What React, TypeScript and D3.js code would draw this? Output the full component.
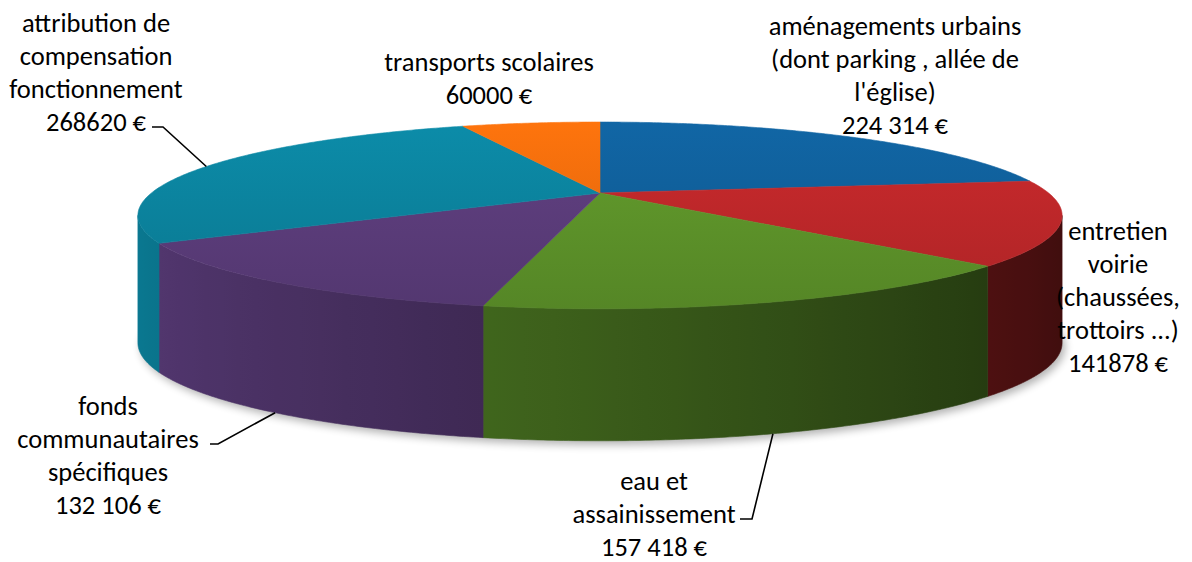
import React from "react";
import * as d3 from "d3";

// ---------- data ----------
const categories = [
  "aménagements urbains (dont parking , allée de l'église)",
  "entretien voirie (chaussées, trottoirs ...)",
  "eau et assainissement",
  "fonds communautaires spécifiques",
  "attribution de compensation fonctionnement",
  "transports scolaires",
];
const values = [224314, 141878, 157418, 132106, 268620, 60000];
const labelLines = [
  ["aménagements urbains", "(dont parking , allée de", "l'église)", "224 314 €"],
  ["entretien", "voirie", "(chaussées,", "trottoirs ...)", "141878 €"],
  ["eau et", "assainissement", "157 418 €"],
  ["fonds", "communautaires", "spécifiques", "132 106 €"],
  ["attribution de", "compensation", "fonctionnement", "268620 €"],
  ["transports scolaires", "60000 €"],
];
const colors = ["#10609c", "#c0282a", "#5e952a", "#5c3d7c", "#0b849f", "#f06d0c"];

// ---------- layout ----------
const W = 1192, H = 562;
const CX = 600, CY = 193, A = 448.6, B = 88, P = 0.24;
const FONT = 26.5, LINE = 33;
// label placement: center x, first baseline, optional leader (line index, x start, x elbow)
const labelLayout = [
  { cx: 895, y: 35, leader: null },
  { cx: 1118, y: 240, leader: null },
  { cx: 654, y: 490, leader: { line: 1, x0: 740, x1: 752 } },
  { cx: 108, y: 415, leader: { line: 1, x0: 210, x1: 218 } },
  { cx: 96, y: 32, leader: { line: 3, x0: 152, x1: 163 } },
  { cx: 489, y: 71, leader: null },
];

function proj(theta: number, drop = 0): [number, number] {
  const x = Math.sin(theta), z = -Math.cos(theta);
  const d = 1 - P * z;
  return [CX + (A * x) / d, CY + (B * z) / d + drop];
}
function wallH(theta: number) {
  const z = -Math.cos(theta);
  return 126 + 6 * z;
}
function shade(c: string, f: number) {
  const r = d3.rgb(c);
  return d3.rgb(Math.min(255, r.r * f), Math.min(255, r.g * f), Math.min(255, r.b * f)).formatHex();
}
function samples(a0: number, a1: number, step = Math.PI / 360) {
  const n = Math.max(2, Math.ceil((a1 - a0) / step));
  return d3.range(n + 1).map((i) => a0 + ((a1 - a0) * i) / n);
}

export default function App() {
  const arcs = d3.pie<number>().sort(null).startAngle(0).endAngle(2 * Math.PI)(values);
  const thL = Math.acos(-P);
  const thR = 2 * Math.PI - thL;
  const line = d3.line();

  const shadowPts = samples(0, 2 * Math.PI).map((t) => proj(t, wallH(t)));

  const walls = arcs.map((a, i) => {
    const a0 = Math.max(a.startAngle, thL), a1 = Math.min(a.endAngle, thR);
    if (a1 <= a0) return null;
    const ts = samples(a0, a1);
    const top = ts.map((t) => proj(t));
    const bot = ts.map((t) => proj(t, wallH(t))).reverse();
    const xs = top.map((p) => p[0]);
    const xmin = d3.min(xs)!, xmax = d3.max(xs)!;
    const stops = ts
      .filter((_, k) => k % 6 === 0 || k === ts.length - 1)
      .map((t) => {
        const p = proj(t);
        const f = 0.62 - 0.3 * Math.sin(t);
        return { off: (p[0] - xmin) / Math.max(1, xmax - xmin), col: shade(colors[i], f) };
      })
      .sort((u, v) => u.off - v.off);
    return { i, d: line([...top, ...bot])! + "Z", xmin, xmax, stops };
  });

  const tops = arcs.map((a, i) => {
    const pts = [[CX, CY] as [number, number], ...samples(a.startAngle, a.endAngle).map((t) => proj(t))];
    return { i, d: line(pts)! + "Z" };
  });

  return (
    <svg width={W} height={H} style={{ position: "absolute", left: 0, top: 0, background: "#fff" }}
      fontFamily="Carlito, Calibri, Lato, sans-serif">
      <defs>
        <filter id="sh" x="-10%" y="-10%" width="120%" height="130%">
          <feGaussianBlur stdDeviation="4" />
        </filter>
        {walls.map((w) =>
          w ? (
            <linearGradient key={w.i} id={`wg${w.i}`} gradientUnits="userSpaceOnUse" x1={w.xmin} x2={w.xmax} y1={0} y2={0}>
              {w.stops.map((s, k) => (
                <stop key={k} offset={s.off} stopColor={s.col} />
              ))}
            </linearGradient>
          ) : null
        )}
        {colors.map((c, i) => (
          <linearGradient key={i} id={`tg${i}`} gradientUnits="userSpaceOnUse" x1={0} x2={0} y1={122} y2={310}>
            <stop offset={0} stopColor={shade(c, 1.06)} />
            <stop offset={1} stopColor={shade(c, 0.9)} />
          </linearGradient>
        ))}
      </defs>
      <path d={line(shadowPts)! + "Z"} fill="#000" opacity={0.3} filter="url(#sh)" transform="translate(3,4)" />
      {walls.map((w) =>
        w ? <path key={w.i} d={w.d} fill={`url(#wg${w.i})`} stroke={`url(#wg${w.i})`} strokeWidth={0.6} /> : null
      )}
      {tops.map((t) => (
        <path key={t.i} d={t.d} fill={`url(#tg${t.i})`} stroke={`url(#tg${t.i})`} strokeWidth={0.6} />
      ))}
      {arcs.map((a, i) => {
        const L = labelLayout[i];
        const lines = labelLines[i];
        let leader = null;
        if (L.leader) {
          const mid = (a.startAngle + a.endAngle) / 2;
          const z = -Math.cos(mid);
          const end = proj(mid, z > 0 ? wallH(mid) : 0);
          const ly = L.y + L.leader.line * LINE - 4;
          leader = (
            <polyline points={`${L.leader.x0},${ly} ${L.leader.x1},${ly} ${end[0]},${end[1]}`}
              fill="none" stroke="#000" strokeWidth={1.6} />
          );
        }
        return (
          <g key={i}>
            {leader}
            <text textAnchor="middle" fontSize={FONT} fill="#000">
              {lines.map((s, k) => (
                <tspan key={k} x={L.cx} y={L.y + k * LINE}>{s}</tspan>
              ))}
            </text>
          </g>
        );
      })}
    </svg>
  );
}
